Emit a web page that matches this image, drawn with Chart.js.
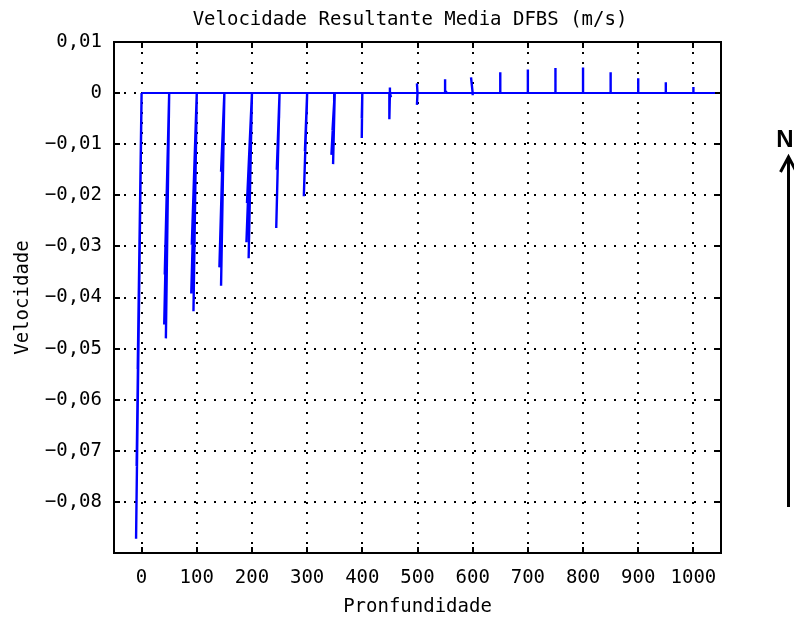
<!DOCTYPE html>
<html><head><meta charset="utf-8">
<script src="https://cdn.jsdelivr.net/npm/chart.js@4.4.1/dist/chart.umd.min.js"></script>
<style>html,body{margin:0;padding:0;background:#fff;}canvas{display:block;}</style>
</head><body>
<canvas id="c" width="794" height="619"></canvas>
<script>
// ---- text ----
const titleText = 'Velocidade Resultante Media DFBS (m/s)';
const xAxisTitle = 'Pronfundidade';
const yAxisTitle = 'Velocidade';
const northLabel = 'N';

// ---- ticks ----
const xTickValues = [0, 100, 200, 300, 400, 500, 600, 700, 800, 900, 1000];
const xTickLabels = ['0', '100', '200', '300', '400', '500', '600', '700', '800', '900', '1000'];
const yTickValues = [0.01, 0, -0.01, -0.02, -0.03, -0.04, -0.05, -0.06, -0.07, -0.08];
const yTickLabels = ['0,01', '0', '\u22120,01', '\u22120,02', '\u22120,03', '\u22120,04', '\u22120,05', '\u22120,06', '\u22120,07', '\u22120,08'];

// ---- data: feather vectors (origin depth, east comp. in depth units, north comp. m/s) ----
const vecStation = [
  0, 0, 0, 0,
  50, 50, 50, 50,
  100, 100, 100, 100,
  150, 150, 150, 150,
  200, 200, 200, 200,
  250, 250, 250,
  300, 300, 300,
  350, 350, 350, 350,
  400, 400,
  450, 450, 450,
  500, 500,
  550, 550,
  600, 600,
  650, 700, 750, 800, 850, 900, 950, 1000
];
const vecU = [
  -10, -9, -7, -5,
  -6, -9, -8, -4,
  -6, -10, -9, -3,
  -6, -9, -6, -3,
  -6, -10, -9, -4,
  -6, -5, -1,
  -6, -4, -1,
  -3, -6, -4, -1,
  -1, -1,
  -1, 0, 2,
  -1, -1,
  0, 4,
  -3, 0,
  0, 0, 0, 0, 0, 0, 0, 0
];
const vecV = [
  -0.0872, -0.073, -0.054, -0.044,
  -0.048, -0.0453, -0.0355, -0.021,
  -0.0427, -0.0392, -0.0297, -0.0176,
  -0.0377, -0.0341, -0.0154, -0.0114,
  -0.0323, -0.0292, -0.0215, -0.013,
  -0.0264, -0.015, -0.0049,
  -0.0202, -0.0114, -0.0043,
  -0.0139, -0.0121, -0.0073, -0.0017,
  -0.0088, -0.005,
  -0.0051, 0.0011, -0.0008,
  0.0019, -0.0023,
  0.0027, 0.0003,
  0.0031, -0.0004,
  0.0041, 0.0046, 0.0049, 0.0050, 0.0041, 0.0029, 0.0021, 0.0012
];
const baselineX = [0, 1050];

// ---- build datasets ----
const vectorPoints = [];
vecStation.forEach((s, i) => {
  vectorPoints.push({x: s, y: 0});
  vectorPoints.push({x: s + vecU[i], y: vecV[i]});
  vectorPoints.push({x: s, y: null});
});
const baselinePoints = baselineX.map(x => ({x: x, y: 0}));

const MONO = "'DejaVu Sans Mono', 'Liberation Mono', monospace";
const FONT = {family: MONO, size: 19, weight: 'normal'};

const decor = {
  id: 'decor',
  beforeDatasetsDraw(chart) {
    const {ctx, chartArea: a, scales: {x, y}} = chart;
    ctx.save();
    ctx.strokeStyle = '#000';
    ctx.lineWidth = 2;
    ctx.setLineDash([2, 8]);
    xTickValues.forEach(v => {
      const px = Math.round(x.getPixelForValue(v));
      ctx.beginPath(); ctx.moveTo(px, a.top); ctx.lineTo(px, a.bottom); ctx.stroke();
    });
    yTickValues.forEach(v => {
      const py = Math.round(y.getPixelForValue(v));
      ctx.beginPath(); ctx.moveTo(a.left, py); ctx.lineTo(a.right, py); ctx.stroke();
    });
    ctx.restore();
  },
  afterDatasetsDraw(chart) {
    const {ctx, chartArea: a, scales: {x, y}} = chart;
    ctx.save();
    ctx.strokeStyle = '#000';
    ctx.lineWidth = 2;
    const tl = 6;
    xTickValues.forEach(v => {
      const px = Math.round(x.getPixelForValue(v));
      ctx.beginPath();
      ctx.moveTo(px, a.bottom); ctx.lineTo(px, a.bottom - tl);
      ctx.moveTo(px, a.top); ctx.lineTo(px, a.top + tl);
      ctx.stroke();
    });
    yTickValues.forEach(v => {
      const py = Math.round(y.getPixelForValue(v));
      ctx.beginPath();
      ctx.moveTo(a.left, py); ctx.lineTo(a.left + tl, py);
      ctx.moveTo(a.right, py); ctx.lineTo(a.right - tl, py);
      ctx.stroke();
    });
    ctx.strokeRect(a.left, a.top, a.right - a.left, a.bottom - a.top);
    ctx.restore();
  },
  afterDraw(chart) {
    const {ctx} = chart;
    ctx.save();
    // title
    ctx.fillStyle = '#000';
    ctx.font = "19px " + MONO;
    ctx.textAlign = 'center';
    ctx.textBaseline = 'middle';
    ctx.fillText(titleText, 410, 20);
    // north arrow
    ctx.font = "bold 24px 'Liberation Sans', Arial, sans-serif";
    ctx.textBaseline = 'alphabetic';
    ctx.fillText(northLabel, 785, 147);
    ctx.strokeStyle = '#000';
    ctx.lineWidth = 3;
    ctx.beginPath();
    ctx.moveTo(788.5, 507); ctx.lineTo(788.5, 158);
    ctx.stroke();
    ctx.beginPath();
    ctx.moveTo(780.5, 172); ctx.lineTo(788.5, 157); ctx.lineTo(796.5, 172);
    ctx.stroke();
    ctx.restore();
  }
};

new Chart(document.getElementById('c'), {
  type: 'scatter',
  data: {
    datasets: [
      {data: baselinePoints, showLine: true, borderColor: '#0000ff', borderWidth: 2, pointRadius: 0, spanGaps: false},
      {data: vectorPoints, showLine: true, borderColor: '#0000ff', borderWidth: 2.4, pointRadius: 0, spanGaps: false}
    ]
  },
  options: {
    responsive: false,
    animation: false,
    devicePixelRatio: 1,
    layout: {padding: {left: 0, right: 73, top: 42, bottom: 0}},
    plugins: {legend: {display: false}, tooltip: {enabled: false}, title: {display: false}},
    scales: {
      x: {
        type: 'linear', min: -50, max: 1050,
        afterBuildTicks: s => { s.ticks = xTickValues.map(v => ({value: v})); },
        afterFit: s => { s.height = 66; },
        grid: {display: false, drawTicks: false},
        border: {display: false},
        ticks: {autoSkip: false, maxRotation: 0, minRotation: 0, padding: 14, color: '#000', font: FONT,
                callback: (v, i) => xTickLabels[i]},
        title: {display: true, text: xAxisTitle, color: '#000', font: FONT, padding: {top: 0, bottom: 1}}
      },
      y: {
        type: 'linear', min: -0.09, max: 0.01,
        afterBuildTicks: s => { s.ticks = yTickValues.map(v => ({value: v})); },
        afterFit: s => { s.width = 114; },
        grid: {display: false, drawTicks: false},
        border: {display: false},
        ticks: {autoSkip: false, padding: 12, color: '#000', font: FONT,
                callback: (v, i) => yTickLabels[i]},
        title: {display: true, text: yAxisTitle, color: '#000', font: FONT, padding: {top: 12, bottom: 0}}
      }
    }
  },
  plugins: [decor]
});
</script>
</body></html>
